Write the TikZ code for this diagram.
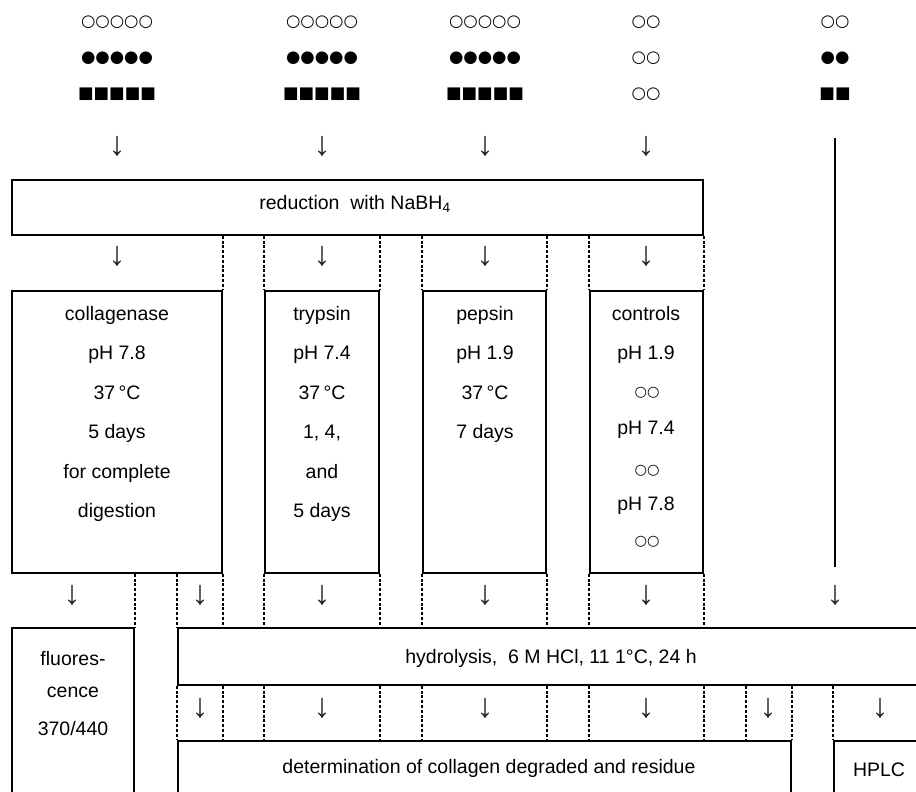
\documentclass[tikz,border=0pt]{standalone}
\usepackage{fontspec}
\setmainfont{Liberation Sans}
\newfontfamily\symfont{DejaVu Sans}
\usepackage{tikz}
\usetikzlibrary{fit}
\tikzset{
  box/.style={draw, rectangle, inner sep=0pt, line width=1.6pt},
  lane/.style={line width=1.6pt, dash pattern=on 3pt off 1.8pt},
  solid line/.style={line width=1.5pt},
  txt/.style={anchor=base, inner sep=0pt},
  down/.style={inner sep=0pt, text=black!85, font=\fontsize{34}{34}\selectfont},
  sym/.style={inner sep=0pt, font=\symfont\fontsize{16.5}{16.5}\selectfont},
  symsmall/.style={anchor=base, inner sep=0pt, font=\symfont\fontsize{14.3}{14.3}\selectfont}
}

\begin{document}
\begin{tikzpicture}[x=1pt,y=-1pt,font=\fontsize{19.5}{23}\selectfont]
  \clip (0,0) rectangle (916,792);
  \foreach \x/\n in {117/1,322/2,485/3} {
    \node[sym] (s\n a) at (\x,22.5) {○○○○○};
    \node[sym] (s\n b) at (\x,58) {●●●●●};
    \node[sym] (s\n c) at (\x,94) {■■■■■};
  }
  \node[sym] (s4a) at (646,22.5) {○○};
  \node[sym] (s4b) at (646,58) {○○};
  \node[sym] (s4c) at (646,94) {○○};
  \node[sym] (s5a) at (835,22.5) {○○};
  \node[sym] (s5b) at (835,58) {●●};
  \node[sym] (s5c) at (835,94) {■■};
  \foreach \x [count=\i] in {117,322,485,646} \node[down] (d1\i) at (\x,146) {↓};
  \coordinate (vtop) at (835,138);
  \coordinate (vbot) at (835,567);
  \draw[solid line] (vtop) -- (vbot);

  \node[box, fit={(12,180) (703,235)}] (red) {};
  \node[txt] (redtxt) at (355,209) {reduction\ \ with NaBH\textsubscript{4}};
  \foreach \x [count=\i] in {117,322,485,646} \node[down] (d2\i) at (\x,256) {↓};

  \node[box, fit={(12,291) (222,573)}] (coll) {};
  \node[box, fit={(265,291) (379,573)}] (tryp) {};
  \node[box, fit={(423,291) (546,573)}] (peps) {};
  \node[box, fit={(590,291) (703,573)}] (ctrl) {};
  \foreach \b/\s in {coll/east, tryp/west, tryp/east, peps/west, peps/east, ctrl/west, ctrl/east}
    \draw[lane] (red.south -| \b.north \s) -- (\b.north \s);
  \foreach \t [count=\i] in {collagenase, pH 7.8, 37\,°C, 5 days, for complete, digestion}
    \node[txt] (coll\i) at (117,281.1+39.4*\i) {\t};
  \foreach \t [count=\i] in {trypsin, pH 7.4, 37\,°C, {1, 4,}, and, 5 days}
    \node[txt] (tryp\i) at (322,281.1+39.4*\i) {\t};
  \foreach \t [count=\i] in {pepsin, pH 1.9, 37\,°C, 7 days}
    \node[txt] (peps\i) at (485,281.1+39.4*\i) {\t};
  \foreach \y/\t [count=\i] in {320/controls, 359/pH 1.9, 434/pH 7.4, 510/pH 7.8}
    \node[txt] (ctrl\i) at (646,\y) {\t};
  \foreach \y [count=\i] in {396,474,545}
    \node[symsmall] (ctrlo\i) at (647,\y) {○○};

  \node[box, fit={(12,628) (134,800)}] (fluor) {};
  \node[box, fit={(178,628) (930,685)}] (hyd) {};
  \node[box, fit={(178,741) (791,800)}] (det) {};
  \node[box, fit={(834,741) (930,800)}] (hplc) {};
  \foreach \y/\t [count=\i] in {665/fluores-, 697/cence, 735/370\slash 440}
    \node[txt] (fluor\i) at (73,\y) {\t};
  \node[txt] (hydtxt) at (551,663) {hydrolysis,\ \ 6 M HCl,\ 11 1°C,\ 24 h};
  \node[txt] (dettxt) at (489,773) {determination of collagen degraded and residue};
  \node[txt] (hplctxt) at (879,776) {HPLC};

  \foreach \x [count=\i] in {72,200,322,485,646,835} \node[down] (d3\i) at (\x,595) {↓};
  \draw[lane] (coll.south -| fluor.east) -- (fluor.north east);
  \draw[lane] (coll.south -| hyd.west) -- (hyd.north west);
  \foreach \b/\s in {coll/east, tryp/west, tryp/east, peps/west, peps/east, ctrl/west, ctrl/east}
    \draw[lane] (\b.south \s) -- (hyd.north -| \b.south \s);

  \coordinate (gap) at (746,741);
  \foreach \x [count=\i] in {200,322,485,646,768,880} \node[down] (d4\i) at (\x,708) {↓};
  \draw[lane] (hyd.south west) -- (det.north west);
  \foreach \b/\s in {coll/east, tryp/west, tryp/east, peps/west, peps/east, ctrl/west, ctrl/east}
    \draw[lane] (hyd.south -| \b.south \s) -- (det.north -| \b.south \s);
  \draw[lane] (hyd.south -| gap) -- (gap);
  \draw[lane] (hyd.south -| det.east) -- (det.north east);
  \draw[lane] (hyd.south -| hplc.west) -- (hplc.north west);
\end{tikzpicture}
\end{document}
